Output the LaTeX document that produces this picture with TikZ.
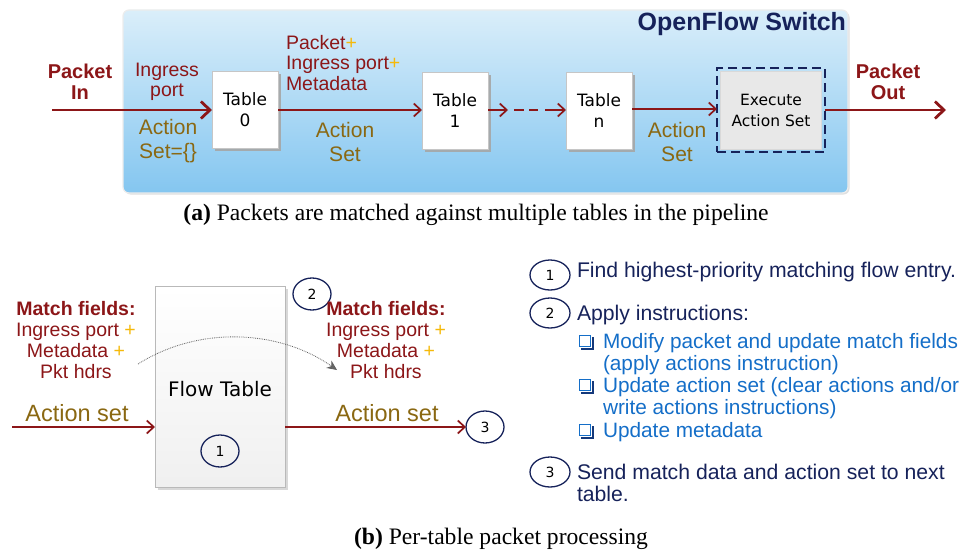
\documentclass[tikz,border=0pt]{standalone}
\usepackage{fontspec}
\setmainfont{Liberation Serif}
\setsansfont{Liberation Sans}
\newfontfamily\vsans{DejaVu Sans}
\usetikzlibrary{arrows.meta,shadows,shapes.geometric}

\definecolor{pktred}{RGB}{140,22,24}
\definecolor{actolive}{RGB}{138,104,18}
\definecolor{plusyel}{RGB}{245,185,10}
\definecolor{navy}{RGB}{22,34,90}
\definecolor{listblue}{RGB}{20,110,200}
\definecolor{swtop}{RGB}{218,238,250}
\definecolor{swbot}{RGB}{132,198,240}

\tikzset{
  every node/.style={inner sep=0pt, outer sep=0pt},
  flowarrow/.style={draw=pktred, line width=2.8pt, -{Straight Barb[length=9pt,width=17pt,line width=2.8pt]}},
  thinarrow/.style={draw=pktred, line width=1.7pt, -{Straight Barb[length=7pt,width=13pt,line width=1.7pt]}},
  tablebox/.style={draw=gray!45, line width=0.6pt, fill=white, minimum width=66pt, minimum height=77pt,
                   align=center, font=\vsans\fontsize{17}{21}\selectfont,
                   drop shadow={shadow xshift=2.5pt, shadow yshift=-2.5pt, fill=gray!70, opacity=0.9}},
  redtxt/.style={text=pktred, font=\sffamily\fontsize{19.5}{20.5}\selectfont, align=center},
  redbold/.style={text=pktred, font=\sffamily\bfseries\fontsize{20}{20.5}\selectfont, align=center},
  olivetxt/.style={text=actolive, font=\sffamily\fontsize{21}{23.5}\selectfont, align=center},
  numcirc/.style={draw=navy, line width=1.3pt, shape=ellipse, minimum width=38pt, minimum height=32pt,
                  font=\vsans\fontsize{14}{14}\selectfont},
  listtxt/.style={text=navy, font=\sffamily\fontsize{21.2}{22}\selectfont, anchor=base west},
  subtxt/.style={text=listblue, font=\sffamily\fontsize{20.8}{22}\selectfont, anchor=base west},
  tickbox/.style={draw=listblue, line width=1.4pt, fill=white, minimum size=11.5pt},
  capt/.style={font=\rmfamily\fontsize{23.6}{24}\selectfont, anchor=base}
}

\newcommand{\plusy}{\textcolor{plusyel}{+}}

\begin{document}
\begin{tikzpicture}[x=1pt,y=-1pt]
\useasboundingbox (0,0) rectangle (966,551);

% ---------------- (a) pipeline ----------------
\node[draw=white!85!gray, line width=1.2pt, rounded corners=6pt, top color=swtop, bottom color=swbot,
      minimum width=725pt, minimum height=183pt, anchor=north west,
      drop shadow={shadow xshift=1.5pt, shadow yshift=-1.5pt, fill=gray!50}] (switch) at (123,10) {};
\node[text=navy, font=\sffamily\bfseries\fontsize{25}{25}\selectfont, anchor=base east] (swname) at (846,31) {OpenFlow Switch};

\node[tablebox] (t0) at (245,110) {Table\\0};
\node[tablebox] (t1) at (455,111) {Table\\1};
\node[tablebox] (tn) at (599,111) {Table\\n};

\node[draw=navy, line width=1.3pt, dash pattern=on 9pt off 5pt, minimum width=108pt, minimum height=84pt] (exec) at (771,110) {};
\node[fill=gray!18, draw=gray!30, minimum width=101pt, minimum height=78pt, align=center,
      font=\vsans\fontsize{15.5}{21}\selectfont] (execin) at (771,110) {Execute\\Action Set};

\coordinate (pin) at (52,110);
\coordinate (pout) at (946,110);
\draw[flowarrow] (pin) -- (t0.west);
\draw[flowarrow] (exec.east) -- (pout);
\draw[thinarrow] (t0.east |- 0,110) -- (t1.west |- 0,110);
\coordinate (d1) at (508,110);
\coordinate (d2) at (514,110);
\coordinate (d3) at (538,110);
\coordinate (d4) at (545,110);
\draw[thinarrow] (t1.east |- 0,110) -- (d1);
\draw[draw=pktred, line width=1.7pt, dash pattern=on 10pt off 5pt] (d2) -- (d3);
\draw[thinarrow] (d4) -- (tn.west |- 0,110);
\draw[thinarrow] (tn.east |- 0,109) -- (exec.west |- 0,109);

\node[redbold] (pktin) at (80,82) {Packet\\In};
\node[redbold] (pktout) at (888,82) {Packet\\Out};
\node[redtxt] (ingr) at (167,82) {Ingress\\port};
\node[olivetxt] (as0) at (168,141) {Action\\Set=\{\}};
\node[redtxt, align=left, anchor=north west] (pim) at (286,35) {Packet\plusy\\Ingress port\plusy\\Metadata};
\node[olivetxt] (as1) at (345,142) {Action\\Set};
\node[olivetxt] (asn) at (677,142) {Action\\Set};

\node[capt] (capa) at (476,220) {\textbf{(a)} Packets are matched against multiple tables in the pipeline};

% ---------------- (b) per-table processing ----------------
\node[draw=gray!55, line width=0.6pt, top color=white, bottom color=gray!12, minimum width=130pt, minimum height=201pt,
      drop shadow={shadow xshift=2.5pt, shadow yshift=-2.5pt, fill=gray!60}] (ft) at (220,387) {};
\node[font=\vsans\fontsize{20}{20}\selectfont, anchor=base] (ftname) at (220,396) {Flow Table};
\node[numcirc] (c1) at (220,451) {1};
\node[numcirc] (c2) at (312,294) {2};
\node[numcirc] (c3) at (485,427) {3};

\node[redtxt, anchor=north, align=center, font=\sffamily\fontsize{19.5}{21}\selectfont] (mfl) at (76,301)
  {\textbf{Match fields:}\\Ingress port \plusy\\Metadata \plusy\\Pkt hdrs};
\node[redtxt, anchor=north, align=center, font=\sffamily\fontsize{19.5}{21}\selectfont] (mfr) at (386,301)
  {\textbf{Match fields:}\\Ingress port \plusy\\Metadata \plusy\\Pkt hdrs};

\coordinate (cs) at (138,364);
\coordinate (ce) at (337,370);
\draw[densely dotted, draw=gray!75!black, line width=0.8pt, -{Stealth[length=10pt,width=9pt,fill=gray!80!black]}]
  (cs) .. controls (200,325) and (280,330) .. (ce);

\node[text=actolive, font=\sffamily\fontsize{23.5}{24}\selectfont, anchor=base] (asl) at (77,421) {Action set};
\node[text=actolive, font=\sffamily\fontsize{23.5}{24}\selectfont, anchor=base] (asr) at (387,421) {Action set};
\coordinate (ain) at (12,427);
\draw[thinarrow] (ain) -- (ft.west |- 0,427);
\draw[thinarrow] (ft.east |- 0,427) -- (c3.west);

% step list
\node[numcirc, minimum width=40pt, minimum height=30pt] (l1) at (550,275) {1};
\node[numcirc, minimum width=40pt, minimum height=30pt] (l2) at (550,313) {2};
\node[numcirc, minimum width=40pt, minimum height=30pt] (l3) at (550,472) {3};
\node[listtxt] (s1) at (577,277) {Find highest-priority matching flow entry.};
\node[listtxt] (s2) at (577,320) {Apply instructions:};
% check boxes with a darker drop edge on the right and bottom
\foreach \yb [count=\i] in {348,392,437} {
  \draw[navy!70!listblue, line width=2pt] (593,\yb-11) -- (593,\yb+1) -- (581,\yb+1);
  \node[tickbox] (cb\i) at (585,\yb-7) {};
}
\node[subtxt] (s21) at (603,348) {Modify packet and update match fields};
\node[subtxt] (s21b) at (603,370) {(apply actions instruction)};
\node[subtxt] (s22) at (603,392) {Update action set (clear actions and/or};
\node[subtxt] (s22b) at (603,414) {write actions instructions)};
\node[subtxt] (s23) at (603,437) {Update metadata};
\node[listtxt] (s3) at (577,479) {Send match data and action set to next};
\node[listtxt] (s3b) at (577,501) {table.};

\node[capt] (capb) at (501,544) {\textbf{(b)} Per-table packet processing};
\end{tikzpicture}
\end{document}
